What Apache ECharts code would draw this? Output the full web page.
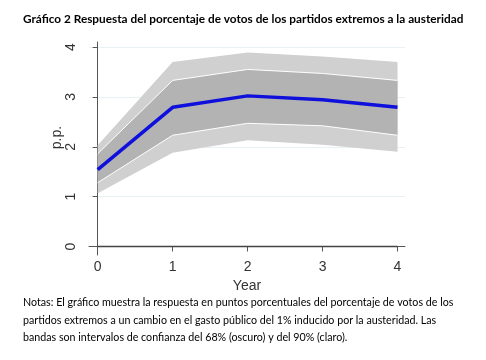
<!DOCTYPE html>
<html><head><meta charset="utf-8">
<script src="https://cdn.jsdelivr.net/npm/echarts@6/dist/echarts.min.js"></script>
<style>html,body{margin:0;padding:0;background:#fff}#c{width:486px;height:360px}</style>
</head><body><div id="c"></div>
<script>
const years = [0, 1, 2, 3, 4];
const response = [1.54, 2.79, 3.02, 2.94, 2.79];
const lower68 = [1.28, 2.23, 2.47, 2.42, 2.23];
const upper68 = [1.86, 3.33, 3.55, 3.47, 3.33];
const lower90 = [1.07, 1.88, 2.13, 2.04, 1.90];
const upper90 = [2.03, 3.70, 3.89, 3.81, 3.70];
const yTicks = [0, 1, 2, 3, 4];
const xTicks = [0, 1, 2, 3, 4];
const titleText = 'Gráfico 2 Respuesta del porcentaje de votos de los partidos extremos a la austeridad';
const notesText = 'Notas: El gráfico muestra la respuesta en puntos porcentuales del porcentaje de votos de los\npartidos extremos a un cambio en el gasto público del 1% inducido por la austeridad. Las\nbandas son intervalos de confianza del 68% (oscuro) y del 90% (claro).';

const pair = (arr) => years.map((x, i) => [x, arr[i]]);
const LIGHT = '#d0d0d0', DARK = '#b3b3b3';

function bandSeries(lo, hi, color, edge) {
  const data = years.map((x, i) => [x, lo[i], hi[i]]);
  return {
    type: 'custom', silent: true, z: 1, data: data,
    encode: {x: 0, y: [1, 2]},
    renderItem: function (params, api) {
      if (params.dataIndex !== 0) return null;
      const top = data.map(d => api.coord([d[0], d[2]]));
      const bot = data.map(d => api.coord([d[0], d[1]])).reverse();
      const children = [{type: 'polygon', shape: {points: top.concat(bot)}, style: {fill: color, stroke: null}}];
      if (edge) {
        children.push({type: 'polyline', shape: {points: top}, style: {stroke: '#fff', lineWidth: 1, fill: null}});
        children.push({type: 'polyline', shape: {points: bot}, style: {stroke: '#fff', lineWidth: 1, fill: null}});
      }
      return {type: 'group', children: children};
    }
  };
}

const chart = echarts.init(document.getElementById('c'), null, {renderer: 'canvas'});
chart.setOption({
  animation: false,
  backgroundColor: '#fff',
  graphic: [{
    type: 'text', left: 23, top: 13,
    style: {text: titleText, fontFamily: 'Lato', fontWeight: 'bold', fontSize: 11.8, fill: '#000'}
  }, {
    type: 'text', left: 23, top: 294,
    style: {text: notesText, fontFamily: 'Lato', fontSize: 10.7, lineHeight: 17.5, fill: '#000'}
  }],
  grid: {left: 89, right: 81, top: 42, bottom: 105},
  xAxis: {
    type: 'value', min: -0.116, max: 4.1,
    name: 'Year', nameLocation: 'middle', nameGap: 21,
    nameTextStyle: {fontFamily: 'Liberation Sans', fontSize: 14, color: '#333'},
    axisLine: {show: true, lineStyle: {color: '#555', width: 1}},
    axisTick: {show: true, length: 5, customValues: xTicks, lineStyle: {color: '#555'}},
    axisLabel: {customValues: xTicks, margin: 5, fontFamily: 'Liberation Sans', fontSize: 14, color: '#333'},
    splitLine: {show: false}
  },
  yAxis: {
    type: 'value', min: -0.17, max: 4.1,
    name: 'p.p.', nameLocation: 'middle', nameGap: 25, nameRotate: 90, nameMoveOverlap: false,
    nameTextStyle: {fontFamily: 'Liberation Sans', fontSize: 14, color: '#333', padding: [0, 0, 0, 22]},
    axisLine: {show: true, lineStyle: {color: '#555', width: 1}},
    axisTick: {show: true, length: 5, customValues: yTicks, lineStyle: {color: '#555'}},
    axisLabel: {customValues: yTicks, rotate: 90, margin: 11, fontFamily: 'Liberation Sans', fontSize: 14, color: '#333'},
    splitLine: {show: false}
  },
  series: [
    bandSeries(lower90, upper90, LIGHT, false),
    bandSeries(lower68, upper68, DARK, true),
    {type: 'line', data: pair(response), symbol: 'none', lineStyle: {color: '#1010dc', width: 3.5}, z: 3,
      markLine: {silent: true, symbol: 'none', label: {show: false}, z: 0,
        lineStyle: {color: '#e8f1f3', width: 1, type: 'solid'},
        data: yTicks.filter(v => v > 0).map(v => ({yAxis: v}))}},
    {type: 'line', data: [[xTicks[0], 0], [xTicks[xTicks.length - 1], 0]], symbol: 'none', lineStyle: {color: '#444', width: 1.5}, z: 2}
  ]
});
</script></body></html>
